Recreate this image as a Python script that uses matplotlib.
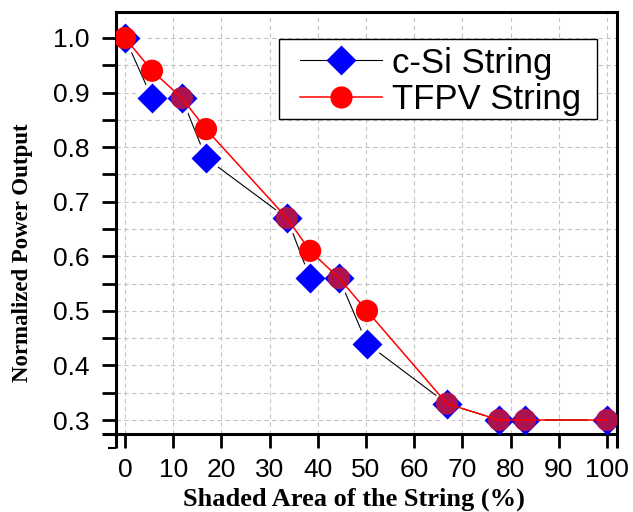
import matplotlib
matplotlib.use('Agg')
import matplotlib.pyplot as plt
import numpy as np
from matplotlib.lines import Line2D
from matplotlib.patches import Rectangle
from matplotlib.ticker import MultipleLocator, FormatStrFormatter

# data
shaded_csi = [0, 5.6, 11.8, 16.8, 33.6, 38.4, 44.4, 50.2, 66.8, 77.6, 83.0, 100]
power_csi = [1.00, 0.89, 0.89, 0.78, 0.67, 0.56, 0.56, 0.44, 0.33, 0.30, 0.30, 0.30]

shaded_tfpv = [0, 5.6, 11.8, 16.8, 33.6, 38.4, 44.4, 50.2, 66.8, 77.6, 83.0, 100]
power_tfpv = [1.00, 0.94, 0.89, 0.833, 0.67, 0.61, 0.56, 0.50, 0.33, 0.30, 0.30, 0.30]

x_ticks = [0, 10, 20, 30, 40, 50, 60, 70, 80, 90, 100]
legend_labels = ['c-Si String', 'TFPV String']

# red circles look darker where they sit on top of a blue diamond
red = '#ff0000'
dark_red = '#ad1250'
tfpv_colors = [red, red, dark_red, red, dark_red, red, dark_red, red,
               dark_red, dark_red, dark_red, dark_red]

plt.rcParams['font.family'] = ['Liberation Sans', 'DejaVu Sans']

fig = plt.figure(figsize=(6.33, 5.12), dpi=100)
ax = fig.add_axes([116 / 633, 1 - 434 / 512, 501 / 633, 422 / 512])

ax.set_xlim(-1.87, 102.07)
ax.set_ylim(0.2744, 1.0476)

# c-Si: thin black line with gaps around the diamonds
ax.plot(shaded_csi, power_csi, color='black', lw=0.8, zorder=2)
ax.plot(shaded_csi, power_csi, ls='none', marker='D', ms=20, mfc='white',
        mec='none', zorder=2.5)
ax.plot(shaded_csi, power_csi, ls='none', marker='D', ms=15, mfc='blue',
        mec='none', zorder=3)

# TFPV: circles then the red line on top
ax.scatter(shaded_tfpv, power_tfpv, s=16 ** 2, c=tfpv_colors, marker='o',
           edgecolors='none', zorder=3.5)
ax.plot(shaded_tfpv, power_tfpv, color='red', lw=1.1, zorder=4)

# ticks and grid
ax.set_xticks(x_ticks)
ax.yaxis.set_major_locator(MultipleLocator(0.1))
ax.yaxis.set_minor_locator(MultipleLocator(0.05))
ax.yaxis.set_major_formatter(FormatStrFormatter('%.1f'))
ax.tick_params(axis='both', which='both', direction='out', length=10, width=2,
               labelsize=19)
ax.tick_params(axis='x', pad=7)
ax.tick_params(axis='y', pad=9)
ax.tick_params(axis='y', which='minor', length=10, width=2)

ax.grid(True, axis='x', which='major', color='#c4c4c4', lw=0.8, ls=(0, (4, 3)))
ax.grid(True, axis='y', which='both', color='#c4c4c4', lw=0.8, ls=(0, (4, 3)))
ax.set_axisbelow(True)

for side in ['left', 'right', 'top', 'bottom']:
    ax.spines[side].set_linewidth(2.2)

# small spine extensions below the frame, like the original software draws
ext = 14 / 422
ax.plot([0, 0], [0, -ext], transform=ax.transAxes, color='black', lw=2.2,
        clip_on=False, solid_capstyle='butt')
ax.plot([1, 1], [0, -ext], transform=ax.transAxes, color='black', lw=2.2,
        clip_on=False, solid_capstyle='butt')
ax.plot([-14 / 501, 0], [0, 0], transform=ax.transAxes, color='black', lw=2.2,
        clip_on=False, solid_capstyle='butt')
ax.plot([-8 / 501, 0], [-ext, -ext], transform=ax.transAxes, color='black',
        lw=1.5, clip_on=False, solid_capstyle='butt')

ax.set_xlabel('Shaded Area of the String (%)', family='Liberation Serif',
              fontweight='bold', fontsize=19)
ax.set_ylabel('Normalized Power Output', family='Liberation Serif',
              fontweight='bold', fontsize=16.5)
ax.xaxis.set_label_coords(0.474, -0.127)
ax.yaxis.set_label_coords(-0.166, 0.43)

# legend box drawn by hand so the padding matches
box = Rectangle((0.3253, 0.7464), 0.960 - 0.3253, 0.936 - 0.7464,
                transform=ax.transAxes, facecolor='white', edgecolor='black',
                lw=1.0, zorder=4.5)
ax.add_patch(box)

handles = [
    Line2D([], [], color='black', lw=0.8, marker='D', ms=15, mfc='blue', mec='none'),
    Line2D([], [], color='red', lw=1.1, marker='o', ms=16, mfc='red', mec='none'),
]
leg = ax.legend(handles, legend_labels, loc='upper left',
                bbox_to_anchor=(0.367, 0.918), frameon=False, fontsize=25,
                borderpad=0, borderaxespad=0, handlelength=2.36,
                handletextpad=0.3, labelspacing=0.1)
leg.set_zorder(5)

fig.savefig('out.png', dpi=100)
